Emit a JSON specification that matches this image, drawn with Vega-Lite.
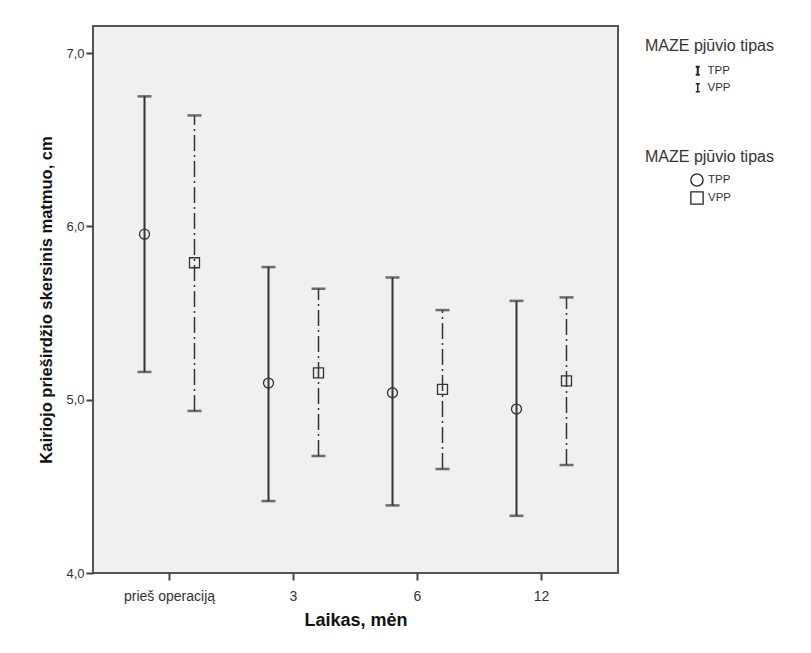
{
  "$schema": "https://vega.github.io/schema/vega-lite/v6.json",
  "width": 525,
  "height": 547,
  "autosize": "none",
  "padding": {"left": 93, "top": 26, "right": 193, "bottom": 80},
  "background": "#ffffff",
  "config": {
    "font": "Liberation Sans",
    "view": {"fill": "#f0f0f0", "stroke": "#555555", "strokeWidth": 2}
  },
  "data": {
    "values": [
      {"laikas": "prieš operaciją", "tipas": "TPP", "mean": 5.955, "lower": 5.16, "upper": 6.75},
      {"laikas": "prieš operaciją", "tipas": "VPP", "mean": 5.79, "lower": 4.935, "upper": 6.64},
      {"laikas": "3", "tipas": "TPP", "mean": 5.096, "lower": 4.415, "upper": 5.765},
      {"laikas": "3", "tipas": "VPP", "mean": 5.155, "lower": 4.675, "upper": 5.64},
      {"laikas": "6", "tipas": "TPP", "mean": 5.04, "lower": 4.39, "upper": 5.705},
      {"laikas": "6", "tipas": "VPP", "mean": 5.06, "lower": 4.6, "upper": 5.517},
      {"laikas": "12", "tipas": "TPP", "mean": 4.946, "lower": 4.33, "upper": 5.57},
      {"laikas": "12", "tipas": "VPP", "mean": 5.108, "lower": 4.623, "upper": 5.59}
    ]
  },
  "encoding": {
    "x": {
      "field": "laikas",
      "type": "nominal",
      "sort": ["prieš operaciją", "3", "6", "12"],
      "scale": {"paddingInner": 0, "paddingOuter": 0.117},
      "axis": {
        "title": "Laikas, mėn",
        "labelAngle": 0,
        "domain": false,
        "tickSize": 7,
        "tickWidth": 2,
        "tickColor": "#444444",
        "labelFontSize": 14,
        "labelColor": "#333333",
        "labelPadding": 9,
        "titleFontSize": 18,
        "titleFontWeight": "bold",
        "titleColor": "#111111",
        "titlePadding": 8
      }
    },
    "xOffset": {
      "field": "tipas",
      "type": "nominal",
      "scale": {"paddingInner": 0, "paddingOuter": 0.24}
    }
  },
  "layer": [
    {
      "mark": {"type": "rule", "color": "#333333"},
      "encoding": {
        "y": {
          "field": "lower",
          "type": "quantitative",
          "scale": {"domain": [4, 7.156], "nice": false, "zero": false},
          "axis": {
            "title": "Kairiojo prieširdžio skersinis matmuo, cm",
            "values": [4, 5, 6, 7],
            "labelExpr": "replace(format(datum.value, '.1f'), '.', ',')",
            "grid": false,
            "domain": false,
            "tickSize": 7,
            "tickWidth": 2,
            "tickColor": "#444444",
            "labelFontSize": 13,
            "labelColor": "#333333",
            "labelPadding": 2,
            "titleFontSize": 16.5,
            "titleFontWeight": "bold",
            "titleColor": "#111111",
            "titlePadding": 11
          }
        },
        "y2": {"field": "upper"},
        "strokeDash": {
          "field": "tipas",
          "type": "nominal",
          "scale": {"domain": ["TPP", "VPP"], "range": [[1, 0], [16, 4, 2, 4]]},
          "legend": {
            "title": "MAZE pjūvio tipas",
            "orient": "none",
            "legendX": 552,
            "legendY": 12,
            "titleFontSize": 16,
            "titleFontWeight": "normal",
            "titleColor": "#333333",
            "titlePadding": 11,
            "labelFontSize": 11.5,
            "labelColor": "#333333",
            "symbolType": "M-0.5,-1H0.5M0,-1V1M-0.5,1H0.5",
            "symbolSize": 64,
            "symbolStrokeWidth": 2,
            "symbolStrokeColor": "#222222",
            "symbolOffset": 47,
            "rowPadding": 1
          }
        },
        "strokeWidth": {
          "field": "tipas",
          "type": "nominal",
          "scale": {"domain": ["TPP", "VPP"], "range": [2, 1.5]},
          "legend": null
        }
      }
    },
    {
      "mark": {"type": "tick", "color": "#333333", "size": 14, "thickness": 2.5, "orient": "horizontal"},
      "encoding": {"y": {"field": "lower", "type": "quantitative"}}
    },
    {
      "mark": {"type": "tick", "color": "#333333", "size": 14, "thickness": 2.5, "orient": "horizontal"},
      "encoding": {"y": {"field": "upper", "type": "quantitative"}}
    },
    {
      "mark": {"type": "point", "filled": false, "color": "#333333", "strokeWidth": 1.3, "size": 100, "opacity": 1},
      "encoding": {
        "y": {"field": "mean", "type": "quantitative"},
        "shape": {
          "field": "tipas",
          "type": "nominal",
          "scale": {"range": ["circle", "square"]},
          "legend": {
            "title": "MAZE pjūvio tipas",
            "orient": "none",
            "legendX": 552,
            "legendY": 123,
            "titleFontSize": 16,
            "titleFontWeight": "normal",
            "titleColor": "#333333",
            "titlePadding": 8,
            "labelFontSize": 11.5,
            "labelColor": "#333333",
            "symbolSize": 150,
            "symbolStrokeWidth": 1.3,
            "symbolStrokeColor": "#222222",
            "symbolOffset": 45,
            "rowPadding": 0
          }
        }
      }
    }
  ]
}
